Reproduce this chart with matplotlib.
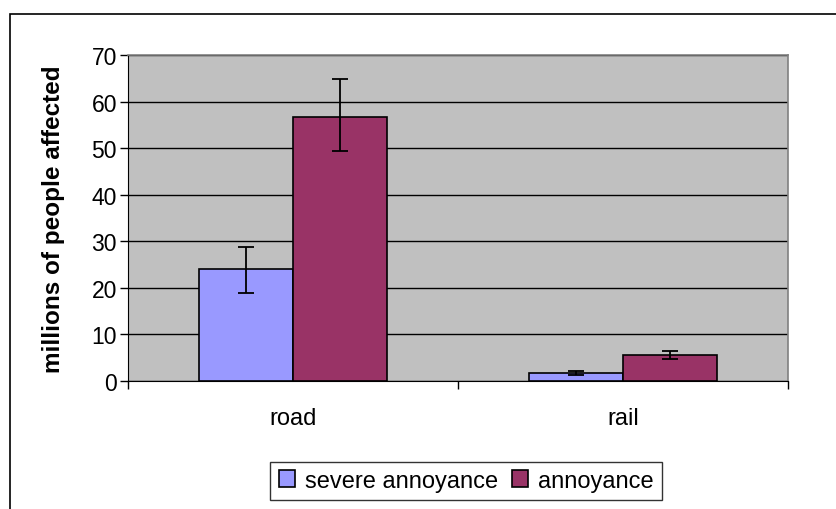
import matplotlib.pyplot as plt
import matplotlib.patches as patches
import numpy as np

plt.rcParams['font.family'] = ['Liberation Sans', 'DejaVu Sans']

categories = ["road", "rail"]
series_names = ["severe annoyance", "annoyance"]
severe = [24.0, 1.7]
severe_lo = [18.8, 1.35]
severe_hi = [28.7, 2.1]
annoy = [56.6, 5.6]
annoy_lo = [49.3, 4.8]
annoy_hi = [64.8, 6.4]

colors = ["#9999FF", "#993366"]

fig = plt.figure(figsize=(8.36, 5.10), dpi=100)
ax = fig.add_axes([128 / 836, 128 / 510, 660 / 836, 326 / 510])
ax.set_facecolor("#C0C0C0")

# outer chart frame, runs off the right and bottom of the image
fig.patches.append(patches.Rectangle((10 / 836, -0.05), 1.1, 0.05 + 1 - 15 / 510,
                                     transform=fig.transFigure, fill=False,
                                     edgecolor="black", linewidth=1.2))

x = np.arange(len(categories))
w = 1 / 3.5
means = [severe, annoy]
los = [severe_lo, annoy_lo]
his = [severe_hi, annoy_hi]
for i in range(2):
    xs = x + (i - 0.5) * w
    ax.bar(xs, means[i], width=w, color=colors[i], edgecolor="black",
           linewidth=1.2, label=series_names[i], zorder=3)
    err = [np.array(means[i]) - np.array(los[i]), np.array(his[i]) - np.array(means[i])]
    ax.errorbar(xs, means[i], yerr=err, fmt="none", ecolor="black",
                elinewidth=1.3, capsize=5.5, capthick=1.3, zorder=4)

ax.set_xlim(-0.5, 1.5)
ax.set_ylim(0, 70)
ax.set_yticks(range(0, 71, 10))
ax.yaxis.grid(True, color="black", linewidth=1.0, zorder=0)
ax.set_axisbelow(True)

ax.set_xticks(x)
ax.set_xticklabels(categories)
ax.set_xticks([-0.5, 0.5, 1.5], minor=True)
ax.tick_params(axis="x", which="major", length=0, pad=19, labelsize=17)
ax.tick_params(axis="x", which="minor", length=6, direction="out", width=1)
ax.tick_params(axis="y", length=6, direction="out", width=1, pad=2, labelsize=16.5)

for s in ["top", "right"]:
    ax.spines[s].set_color("#808080")
    ax.spines[s].set_linewidth(1.2)
ax.spines["left"].set_color("black")
ax.spines["bottom"].set_color("black")

ax.set_ylabel("millions of people affected", fontsize=17.5, fontweight="bold")
ax.yaxis.set_label_coords(-0.095, 0.5)

leg = fig.legend(loc="center", bbox_to_anchor=(466 / 836, 1 - 482 / 510), ncol=2,
                 fontsize=17, frameon=True, fancybox=False, edgecolor="black",
                 handlelength=0.7, handleheight=0.7, handletextpad=0.4,
                 columnspacing=0.6, borderpad=0.35, borderaxespad=0)
leg.get_frame().set_linewidth(1.0)

fig.savefig("out.png", dpi=100)
